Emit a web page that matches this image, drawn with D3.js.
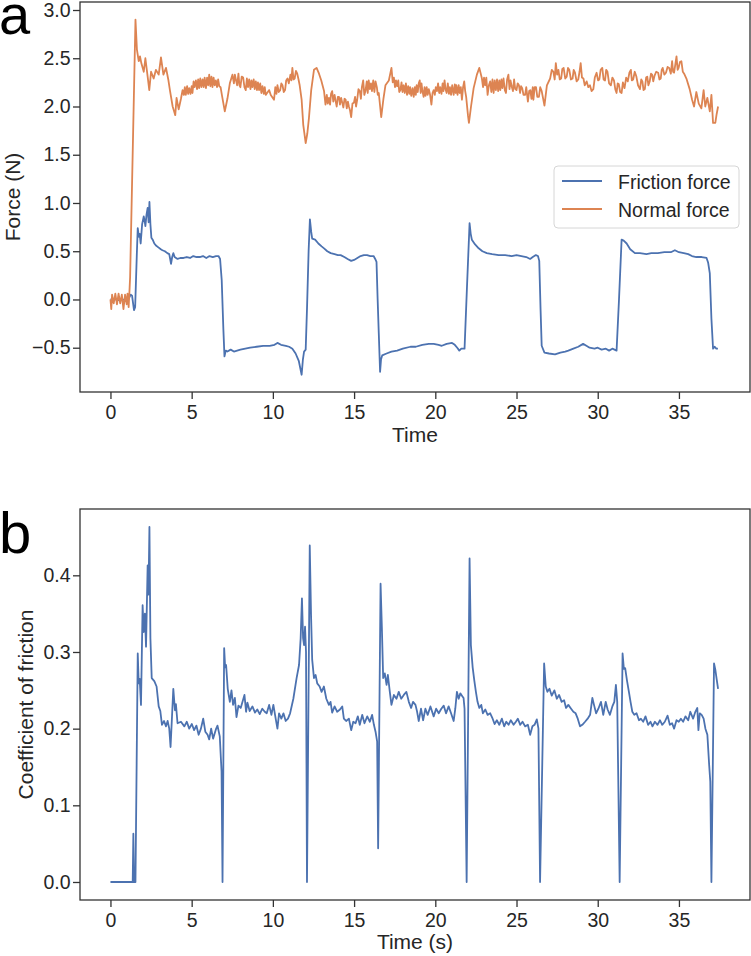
<!DOCTYPE html>
<html>
<head>
<meta charset="utf-8">
<script src="https://cdn.jsdelivr.net/npm/d3@7"></script>
<style>
  body { margin: 0; background: #fff; }
  svg text { font-family: "Liberation Sans", Arial, sans-serif; fill: #262626; }
</style>
</head>
<body>
<div id="graph"></div>
<script>
// ---- data ----
var xTicks = [0, 5, 10, 15, 20, 25, 30, 35];
var forceTicks = [-0.5, 0.0, 0.5, 1.0, 1.5, 2.0, 2.5, 3.0];
var coefTicks = [0.0, 0.1, 0.2, 0.3, 0.4];
var seriesNames = ["Friction force", "Normal force"];

var frictionTime = [0, 0.3, 0.6, 0.9, 1.1, 1.25, 1.33, 1.45, 1.52, 1.62, 1.68, 1.75, 1.8, 1.86, 1.95, 2.05, 2.12, 2.15, 2.22, 2.29, 2.35, 2.4, 2.46, 2.52, 2.6, 2.7, 2.8, 2.95, 3.1, 3.2, 3.35, 3.5, 3.62, 3.73, 3.8, 3.87, 3.95, 4.13, 4.3, 4.5, 4.7, 4.9, 5.1, 5.3, 5.5, 5.7, 5.9, 6.1, 6.3, 6.5, 6.65, 6.75, 6.85, 6.95, 7.02, 7.1, 7.2, 7.4, 7.6, 7.8, 8.0, 8.3, 8.6, 9.0, 9.4, 9.8, 10.1, 10.28, 10.5, 10.8, 11.0, 11.2, 11.4, 11.6, 11.77, 11.85, 11.92, 12.02, 12.1, 12.2, 12.28, 12.36, 12.42, 12.6, 12.8, 13.0, 13.15, 13.35, 13.56, 13.8, 14.0, 14.17, 14.4, 14.6, 14.82, 15.0, 15.2, 15.4, 15.6, 15.8, 16.0, 16.2, 16.3, 16.38, 16.45, 16.52, 16.6, 16.66, 16.73, 17.0, 17.3, 17.65, 18.0, 18.47, 18.8, 19.2, 19.6, 19.9, 20.2, 20.4, 20.7, 21.03, 21.2, 21.35, 21.48, 21.6, 21.8, 21.95, 22.11, 22.18, 22.25, 22.45, 22.67, 22.9, 23.17, 23.5, 23.9, 24.3, 24.7, 25.0, 25.3, 25.6, 25.84, 26.0, 26.19, 26.32, 26.4, 26.48, 26.55, 26.72, 27.0, 27.37, 27.7, 28.0, 28.19, 28.5, 28.8, 29.1, 29.3, 29.5, 29.8, 30.0, 30.24, 30.5, 30.7, 30.9, 31.16, 31.31, 31.47, 31.6, 31.78, 32.0, 32.29, 32.6, 33.0, 33.3, 33.7, 34.1, 34.5, 34.75, 35.0, 35.3, 35.57, 35.8, 36.07, 36.4, 36.7, 36.8, 36.9, 37.0, 37.1, 37.2, 37.3, 37.4];
var frictionForce = [0, 0.0, -0.01, 0.0, 0.0, 0.05, 0.04, -0.11, -0.08, 0.45, 0.74, 0.65, 0.68, 0.58, 0.78, 0.86, 0.8, 0.76, 0.88, 0.95, 0.8, 1.01, 0.78, 0.64, 0.62, 0.58, 0.56, 0.54, 0.52, 0.51, 0.5, 0.48, 0.47, 0.37, 0.44, 0.48, 0.44, 0.42, 0.43, 0.43, 0.44, 0.43, 0.45, 0.44, 0.44, 0.45, 0.43, 0.45, 0.44, 0.45, 0.45, 0.42, 0.2, -0.3, -0.59, -0.53, -0.54, -0.52, -0.54, -0.53, -0.52, -0.51, -0.5, -0.49, -0.48, -0.48, -0.47, -0.45, -0.47, -0.48, -0.49, -0.51, -0.56, -0.64, -0.78, -0.62, -0.54, -0.52, -0.1, 0.5, 0.83, 0.7, 0.63, 0.62, 0.58, 0.55, 0.53, 0.5, 0.48, 0.47, 0.46, 0.46, 0.44, 0.42, 0.4, 0.41, 0.43, 0.45, 0.46, 0.46, 0.45, 0.45, 0.42, 0.39, 0.0, -0.35, -0.75, -0.62, -0.58, -0.56, -0.54, -0.53, -0.51, -0.49, -0.49, -0.47, -0.46, -0.46, -0.47, -0.48, -0.46, -0.45, -0.47, -0.5, -0.53, -0.51, -0.51, 0.13, 0.79, 0.68, 0.62, 0.57, 0.53, 0.5, 0.48, 0.47, 0.46, 0.46, 0.45, 0.46, 0.45, 0.44, 0.42, 0.44, 0.46, 0.45, 0.4, -0.1, -0.48, -0.55, -0.56, -0.57, -0.55, -0.54, -0.53, -0.51, -0.49, -0.46, -0.48, -0.5, -0.51, -0.5, -0.52, -0.51, -0.53, -0.51, -0.53, 0.0, 0.62, 0.61, 0.58, 0.52, 0.48, 0.48, 0.47, 0.48, 0.48, 0.49, 0.49, 0.51, 0.49, 0.48, 0.47, 0.45, 0.44, 0.44, 0.43, 0.38, 0.27, -0.2, -0.51, -0.49, -0.51, -0.51];

// normal force as [time, force] pairs
var normalForce = [
  [0, 0.0], [0.05, -0.1], [0.1, 0.05], [0.2, -0.04], [0.3, 0.06], [0.4, -0.05], [0.5, 0.06], [0.6, -0.04], [0.7, 0.05], [0.8, -0.1],
  [0.9, 0.05], [1.0, -0.05], [1.05, 0.06], [1.12, -0.08], [1.18, 0.12], [1.21, 0.23], [1.54, 2.9], [1.63, 2.59], [1.74, 2.47], [1.82, 2.52],
  [1.9, 2.45], [2.05, 2.36], [2.15, 2.5], [2.29, 2.31], [2.39, 2.17], [2.5, 2.36], [2.66, 2.29], [2.8, 2.38], [2.97, 2.33], [3.11, 2.51],
  [3.26, 2.33], [3.42, 2.4], [3.56, 2.28], [3.66, 2.17], [3.83, 2.0], [3.99, 1.91], [4.07, 2.09], [4.2, 1.97], [4.34, 2.08],
  [4.44, 2.17], [4.52, 2.12], [4.58, 2.2], [4.64, 2.12], [4.72, 2.21], [4.78, 2.13], [4.85, 2.19], [4.93, 2.13], [5.0, 2.21], [5.05, 2.14],
  [5.12, 2.26], [5.18, 2.2], [5.26, 2.27], [5.33, 2.18], [5.4, 2.28], [5.46, 2.19], [5.53, 2.29], [5.6, 2.2], [5.67, 2.28], [5.74, 2.2],
  [5.8, 2.3], [5.88, 2.19], [5.95, 2.3], [6.02, 2.22], [6.08, 2.33], [6.15, 2.21], [6.22, 2.31], [6.28, 2.2], [6.35, 2.3], [6.42, 2.22],
  [6.49, 2.27], [6.56, 2.2], [6.63, 2.28], [6.7, 2.21], [6.78, 2.2], [6.86, 2.12], [7.04, 1.95], [7.2, 2.08], [7.35, 2.24],
  [7.51, 2.33], [7.6, 2.24], [7.66, 2.33], [7.72, 2.28], [7.8, 2.22], [7.88, 2.34], [7.94, 2.22], [8.0, 2.2], [8.08, 2.31], [8.17, 2.3],
  [8.25, 2.2], [8.33, 2.17], [8.4, 2.29], [8.47, 2.2], [8.54, 2.28], [8.62, 2.18], [8.68, 2.27], [8.74, 2.2], [8.82, 2.28], [8.88, 2.18],
  [8.95, 2.26], [9.02, 2.17], [9.08, 2.25], [9.15, 2.17], [9.22, 2.24], [9.29, 2.14], [9.36, 2.21], [9.44, 2.13], [9.5, 2.2], [9.56, 2.12],
  [9.77, 2.17], [9.87, 2.12], [10.07, 2.07], [10.15, 2.2], [10.22, 2.13], [10.28, 2.22], [10.36, 2.15], [10.45, 2.17], [10.52, 2.24], [10.59, 2.22],
  [10.67, 2.15], [10.75, 2.17], [10.82, 2.27], [10.9, 2.29], [10.98, 2.24], [11.08, 2.33], [11.14, 2.27], [11.2, 2.4], [11.27, 2.28], [11.34, 2.29],
  [11.42, 2.37], [11.5, 2.34], [11.58, 2.28], [11.65, 2.22], [11.77, 2.07], [11.87, 1.81], [12.02, 1.62], [12.12, 1.72], [12.22, 1.88], [12.36, 2.17],
  [12.53, 2.38], [12.69, 2.4], [12.84, 2.34], [12.98, 2.27], [13.15, 2.16], [13.24, 2.02], [13.32, 2.12], [13.38, 2.03], [13.45, 2.09], [13.52, 2.02],
  [13.58, 2.13], [13.65, 2.16], [13.72, 2.05], [13.8, 2.12], [13.86, 2.06], [13.93, 2.0], [14.0, 2.1], [14.07, 2.1], [14.13, 2.02], [14.2, 2.09],
  [14.27, 2.04], [14.34, 1.99], [14.41, 2.08], [14.48, 2.07], [14.55, 1.98], [14.62, 2.05], [14.68, 2.0], [14.75, 1.96], [14.82, 1.89], [14.9, 2.03],
  [14.99, 2.04], [15.06, 2.1], [15.12, 2.0], [15.19, 2.07], [15.27, 2.18], [15.35, 2.16], [15.42, 2.08], [15.48, 2.2], [15.56, 2.27], [15.63, 2.12],
  [15.7, 2.16], [15.78, 2.26], [15.84, 2.14], [15.9, 2.27], [15.97, 2.18], [16.04, 2.24], [16.1, 2.16], [16.18, 2.27], [16.25, 2.15], [16.32, 2.26],
  [16.4, 2.2], [16.46, 2.12], [16.52, 2.14], [16.67, 1.89], [16.8, 2.07], [16.93, 2.22], [17.14, 2.27],
  [17.3, 2.4], [17.38, 2.25], [17.45, 2.3], [17.52, 2.2], [17.58, 2.27], [17.65, 2.21], [17.72, 2.27], [17.78, 2.15], [17.85, 2.17], [17.92, 2.25],
  [17.98, 2.15], [18.05, 2.22], [18.12, 2.14], [18.19, 2.24], [18.26, 2.12], [18.33, 2.21], [18.4, 2.13], [18.45, 2.2], [18.52, 2.11], [18.6, 2.19],
  [18.67, 2.1], [18.74, 2.2], [18.8, 2.12], [18.85, 2.22], [18.92, 2.15], [18.98, 2.24], [19.04, 2.27], [19.1, 2.14], [19.15, 2.24], [19.2, 2.17],
  [19.28, 2.1], [19.34, 2.2], [19.4, 2.11], [19.47, 2.2], [19.53, 2.12], [19.6, 2.18], [19.68, 2.12], [19.76, 2.02], [19.83, 2.14], [19.9, 2.17],
  [19.97, 2.12], [20.03, 2.2], [20.1, 2.16], [20.17, 2.24], [20.24, 2.14], [20.3, 2.2], [20.38, 2.13], [20.45, 2.24], [20.5, 2.16], [20.57, 2.27],
  [20.63, 2.18], [20.7, 2.14], [20.77, 2.24], [20.84, 2.13], [20.9, 2.2], [20.97, 2.12], [21.04, 2.22], [21.13, 2.12], [21.2, 2.23], [21.26, 2.14],
  [21.3, 2.22], [21.37, 2.12], [21.44, 2.22], [21.5, 2.14], [21.57, 2.2], [21.64, 2.07], [21.71, 2.2], [21.78, 2.26], [21.84, 2.16], [21.9, 2.1],
  [22.01, 1.91], [22.07, 1.83], [22.2, 2.0], [22.36, 2.19], [22.56, 2.33], [22.71, 2.4],
  [22.87, 2.29], [22.94, 2.2], [23.0, 2.3], [23.07, 2.22], [23.14, 2.3], [23.22, 2.12], [23.3, 2.22], [23.38, 2.26], [23.45, 2.15], [23.52, 2.28],
  [23.59, 2.14], [23.66, 2.27], [23.73, 2.17], [23.8, 2.28], [23.87, 2.16], [23.94, 2.27], [24.0, 2.17], [24.07, 2.28], [24.13, 2.19], [24.2, 2.29],
  [24.28, 2.17], [24.35, 2.14], [24.42, 2.28], [24.5, 2.33], [24.57, 2.18], [24.63, 2.27], [24.7, 2.21], [24.78, 2.16], [24.85, 2.28], [24.92, 2.18],
  [25.0, 2.17], [25.07, 2.24], [25.15, 2.22], [25.22, 2.14], [25.28, 2.21], [25.35, 2.19], [25.43, 2.12], [25.53, 2.12], [25.6, 2.2], [25.7, 2.05],
  [25.78, 2.16], [25.85, 2.17], [25.92, 2.08], [26.0, 2.2], [26.04, 2.07], [26.12, 2.2], [26.2, 2.2], [26.28, 2.1], [26.38, 2.1], [26.46, 2.2],
  [26.55, 2.16], [26.72, 2.01], [26.87, 2.22],
  [27.07, 2.29], [27.17, 2.38], [27.27, 2.36], [27.35, 2.28], [27.42, 2.45], [27.5, 2.33], [27.58, 2.38], [27.66, 2.28], [27.75, 2.29], [27.82, 2.39],
  [27.9, 2.4], [28.0, 2.29], [28.09, 2.31], [28.17, 2.4], [28.25, 2.38], [28.35, 2.28], [28.45, 2.29], [28.52, 2.38], [28.6, 2.35], [28.7, 2.26],
  [28.8, 2.28], [28.88, 2.36], [28.95, 2.45], [29.03, 2.3], [29.12, 2.29], [29.2, 2.22], [29.32, 2.26], [29.42, 2.2], [29.52, 2.22], [29.62, 2.16],
  [29.73, 2.18], [29.82, 2.3], [29.93, 2.35], [30.02, 2.27], [30.1, 2.28], [30.18, 2.38], [30.28, 2.4], [30.36, 2.28], [30.45, 2.27], [30.52, 2.38],
  [30.6, 2.36], [30.7, 2.24], [30.81, 2.22], [30.9, 2.3], [31.0, 2.27], [31.08, 2.18], [31.16, 2.14], [31.23, 2.24], [31.3, 2.23], [31.38, 2.15],
  [31.47, 2.14], [31.55, 2.25], [31.65, 2.19], [31.75, 2.3], [31.85, 2.26], [31.95, 2.35], [32.04, 2.38], [32.1, 2.27], [32.18, 2.28], [32.28, 2.36],
  [32.38, 2.31], [32.48, 2.22], [32.6, 2.18], [32.68, 2.28], [32.75, 2.26], [32.82, 2.17], [32.9, 2.18], [32.98, 2.3], [33.05, 2.31], [33.12, 2.22],
  [33.2, 2.26], [33.28, 2.34], [33.35, 2.33], [33.42, 2.26], [33.5, 2.32], [33.6, 2.36], [33.72, 2.35], [33.8, 2.28], [33.88, 2.29], [33.94, 2.38],
  [34.0, 2.4], [34.1, 2.33], [34.2, 2.35], [34.3, 2.41], [34.4, 2.4], [34.5, 2.34], [34.58, 2.47], [34.64, 2.36], [34.7, 2.35], [34.78, 2.44],
  [34.85, 2.52], [34.92, 2.38], [34.98, 2.4], [35.06, 2.46], [35.15, 2.47], [35.24, 2.36], [35.32, 2.34], [35.46, 2.29], [35.66, 2.18], [35.81, 2.07],
  [35.93, 2.0], [36.07, 2.15], [36.22, 2.03], [36.38, 1.98], [36.52, 2.17], [36.62, 2.0], [36.75, 2.09], [36.9, 1.95], [37.0, 2.12], [37.1, 1.83],
  [37.24, 1.83], [37.32, 1.92], [37.41, 2.0]
];

var coefTime = [0, 1.37, 1.41, 1.45, 1.54, 1.68, 1.74, 1.8, 1.88, 1.98, 2.05, 2.12, 2.19, 2.29, 2.34, 2.4, 2.46, 2.54, 2.7, 2.84, 2.97, 3.07, 3.17, 3.3, 3.42, 3.52, 3.62, 3.7, 3.79, 3.87, 3.97, 4.03, 4.13, 4.34, 4.55, 4.7, 4.85, 5.01, 5.15, 5.29, 5.43, 5.57, 5.71, 5.84, 5.98, 6.08, 6.2, 6.32, 6.49, 6.59, 6.73, 6.84, 6.9, 7.0, 7.06, 7.12, 7.22, 7.35, 7.45, 7.55, 7.66, 7.76, 7.88, 8.02, 8.25, 8.35, 8.43, 8.57, 8.74, 8.9, 9.04, 9.19, 9.35, 9.5, 9.62, 9.77, 9.91, 10.03, 10.18, 10.28, 10.38, 10.52, 10.65, 10.79, 10.93, 11.06, 11.26, 11.46, 11.61, 11.71, 11.79, 11.86, 11.92, 11.98, 12.04, 12.1, 12.27, 12.35, 12.42, 12.53, 12.63, 12.73, 12.88, 13.0, 13.14, 13.29, 13.45, 13.55, 13.65, 13.8, 13.96, 14.13, 14.27, 14.37, 14.51, 14.68, 14.82, 14.95, 15.09, 15.23, 15.35, 15.5, 15.64, 15.81, 15.97, 16.11, 16.22, 16.32, 16.42, 16.48, 16.63, 16.71, 16.79, 16.89, 17.0, 17.08, 17.2, 17.3, 17.45, 17.61, 17.75, 17.9, 18.06, 18.22, 18.37, 18.51, 18.63, 18.78, 18.88, 18.98, 19.12, 19.25, 19.39, 19.53, 19.7, 19.9, 20.05, 20.21, 20.37, 20.52, 20.66, 20.82, 20.97, 21.13, 21.23, 21.33, 21.44, 21.54, 21.64, 21.74, 21.8, 21.93, 22.11, 22.19, 22.3, 22.4, 22.5, 22.6, 22.71, 22.83, 22.93, 23.08, 23.22, 23.38, 23.53, 23.65, 23.79, 23.94, 24.1, 24.24, 24.37, 24.51, 24.65, 24.82, 24.96, 25.08, 25.23, 25.37, 25.53, 25.7, 25.84, 25.98, 26.11, 26.25, 26.35, 26.45, 26.7, 26.8, 26.9, 27.03, 27.17, 27.33, 27.48, 27.62, 27.78, 27.93, 28.05, 28.19, 28.36, 28.5, 28.64, 28.77, 28.91, 29.05, 29.22, 29.38, 29.53, 29.67, 29.77, 29.9, 30.04, 30.2, 30.34, 30.49, 30.61, 30.75, 30.9, 31.02, 31.12, 31.2, 31.35, 31.53, 31.61, 31.69, 31.8, 31.92, 32.02, 32.13, 32.25, 32.39, 32.54, 32.66, 32.8, 32.94, 33.1, 33.25, 33.37, 33.52, 33.68, 33.83, 33.97, 34.13, 34.3, 34.44, 34.58, 34.7, 34.85, 34.99, 35.12, 35.26, 35.4, 35.57, 35.7, 35.87, 36.01, 36.13, 36.2, 36.28, 36.4, 36.52, 36.63, 36.75, 36.86, 36.93, 37.0, 37.16, 37.24, 37.32, 37.41];
var coefValue = [0, 0, 0.063, 0, 0, 0.298, 0.259, 0.265, 0.231, 0.361, 0.326, 0.35, 0.307, 0.413, 0.375, 0.463, 0.318, 0.266, 0.262, 0.255, 0.229, 0.223, 0.205, 0.21, 0.203, 0.21, 0.2, 0.176, 0.216, 0.252, 0.224, 0.232, 0.207, 0.209, 0.203, 0.209, 0.2, 0.206, 0.198, 0.204, 0.192, 0.2, 0.213, 0.196, 0.192, 0.186, 0.2, 0.187, 0.199, 0.204, 0.19, 0.144, 0, 0.305, 0.28, 0.283, 0.252, 0.235, 0.25, 0.231, 0.24, 0.215, 0.23, 0.227, 0.244, 0.222, 0.234, 0.223, 0.229, 0.221, 0.225, 0.219, 0.226, 0.222, 0.22, 0.231, 0.218, 0.231, 0.212, 0.2, 0.22, 0.213, 0.22, 0.21, 0.213, 0.22, 0.239, 0.266, 0.283, 0.318, 0.37, 0.318, 0.309, 0.333, 0.3, 0, 0.439, 0.348, 0.29, 0.266, 0.27, 0.259, 0.255, 0.248, 0.255, 0.239, 0.231, 0.235, 0.221, 0.229, 0.222, 0.225, 0.229, 0.213, 0.21, 0.213, 0.198, 0.209, 0.207, 0.216, 0.205, 0.218, 0.207, 0.216, 0.209, 0.218, 0.205, 0.196, 0.183, 0.044, 0.389, 0.332, 0.266, 0.272, 0.257, 0.27, 0.248, 0.231, 0.244, 0.239, 0.248, 0.239, 0.244, 0.248, 0.235, 0.227, 0.235, 0.231, 0.222, 0.21, 0.226, 0.211, 0.226, 0.218, 0.229, 0.216, 0.226, 0.22, 0.226, 0.23, 0.22, 0.229, 0.22, 0.21, 0.226, 0.248, 0.239, 0.246, 0.243, 0.24, 0.226, 0, 0.422, 0.309, 0.28, 0.263, 0.248, 0.235, 0.227, 0.231, 0.22, 0.225, 0.218, 0.22, 0.213, 0.206, 0.211, 0.205, 0.213, 0.203, 0.209, 0.205, 0.211, 0.205, 0.209, 0.213, 0.205, 0.209, 0.203, 0.205, 0.192, 0.203, 0.205, 0.212, 0.2, 0, 0.285, 0.255, 0.248, 0.252, 0.243, 0.25, 0.239, 0.244, 0.235, 0.237, 0.227, 0.231, 0.226, 0.222, 0.22, 0.213, 0.203, 0.205, 0.209, 0.213, 0.218, 0.24, 0.231, 0.22, 0.226, 0.235, 0.218, 0.235, 0.225, 0.218, 0.229, 0.235, 0.257, 0.235, 0, 0.298, 0.278, 0.279, 0.263, 0.248, 0.235, 0.222, 0.218, 0.22, 0.211, 0.213, 0.209, 0.216, 0.205, 0.209, 0.203, 0.209, 0.205, 0.211, 0.205, 0.209, 0.217, 0.205, 0.207, 0.2, 0.211, 0.209, 0.213, 0.209, 0.216, 0.211, 0.222, 0.213, 0.222, 0.227, 0.198, 0.22, 0.218, 0.213, 0.2, 0.192, 0.153, 0.131, 0, 0.285, 0.277, 0.265, 0.252];

var blue = "#4c72b0", orange = "#dd8452", frameColor = "#333333";

var W = 751, H = 956;
var svg = d3.select("#graph").append("svg")
    .attr("width", W)
    .attr("height", H);

// both panels share the same time range
function timeScale() {
    return d3.scaleLinear().domain([-1.875, 39.375]).range([80, 750]);
}

function drawPanel(top, bottom, y, yTicks, yFmt, xLabel, yLabel, yLabelX, xLabelY) {
    var x = timeScale();
    var g = svg.append("g");

    g.append("g")
        .attr("transform", "translate(0," + bottom + ")")
        .call(d3.axisBottom(x).tickValues(xTicks).tickSize(7).tickPadding(6).tickFormat(d3.format("d")))
        .call(styleAxis);

    g.append("g")
        .attr("transform", "translate(80,0)")
        .call(d3.axisLeft(y).tickValues(yTicks).tickSize(7).tickPadding(2.5).tickFormat(yFmt))
        .call(styleAxis);

    g.append("rect")
        .attr("x", 80).attr("y", top)
        .attr("width", 670).attr("height", bottom - top)
        .attr("fill", "none")
        .attr("stroke", frameColor)
        .attr("stroke-width", 1.3);

    g.append("text")
        .attr("x", 415).attr("y", xLabelY)
        .attr("text-anchor", "middle")
        .style("font-size", "21px")
        .text(xLabel);

    g.append("text")
        .attr("transform", "translate(" + yLabelX + "," + ((top + bottom) / 2) + ") rotate(-90)")
        .attr("text-anchor", "middle")
        .style("font-size", "21px")
        .text(yLabel);

    return { g: g, x: x };
}

function styleAxis(sel) {
    sel.select(".domain").remove();
    sel.selectAll(".tick line").attr("stroke", frameColor).attr("stroke-width", 1.3);
    sel.selectAll(".tick text")
        .style("font-size", "19.5px")
        .style("font-family", "'Liberation Sans', Arial, sans-serif")
        .attr("fill", "#262626");
}

function series(times, values) {
    return times.map(function (t, i) { return [t, values[i]]; });
}

// ---- panel a ----
var yA = d3.scaleLinear().domain([-0.959, 3.083]).range([392, 2]);
var pa = drawPanel(2, 392, yA, forceTicks, d3.format(".1f"), "Time", "Force (N)", 20, 442);

var lineA = d3.line()
    .x(function (d) { return pa.x(d[0]); })
    .y(function (d) { return yA(d[1]); });

pa.g.append("path")
    .datum(series(frictionTime, frictionForce))
    .attr("d", lineA)
    .attr("fill", "none")
    .attr("stroke", blue)
    .attr("stroke-width", 1.8)
    .attr("stroke-linejoin", "round");

pa.g.append("path")
    .datum(normalForce)
    .attr("d", lineA)
    .attr("fill", "none")
    .attr("stroke", orange)
    .attr("stroke-width", 1.8)
    .attr("stroke-linejoin", "round");

// legend
var legend = pa.g.append("g");
legend.append("rect")
    .attr("x", 554).attr("y", 166)
    .attr("width", 185).attr("height", 62)
    .attr("rx", 4)
    .attr("fill", "#fff").attr("fill-opacity", 0.8)
    .attr("stroke", "#d6d6d6").attr("stroke-width", 1);

[blue, orange].forEach(function (c, i) {
    var ly = 181 + i * 28;
    legend.append("line")
        .attr("x1", 562).attr("x2", 602)
        .attr("y1", ly).attr("y2", ly)
        .attr("stroke", c).attr("stroke-width", 1.8);
    legend.append("text")
        .attr("x", 618).attr("y", ly + 8)
        .style("font-size", "19.5px")
        .text(seriesNames[i]);
});

svg.append("text")
    .attr("x", -1).attr("y", 34)
    .style("font-size", "56px")
    .style("fill", "#000")
    .text("a");

// ---- panel b ----
var yB = d3.scaleLinear().domain([-0.0235, 0.4865]).range([900, 509]);
var pb = drawPanel(509, 900, yB, coefTicks, d3.format(".1f"), "Time (s)", "Coefficient of friction", 33, 949);

var lineB = d3.line()
    .x(function (d) { return pb.x(d[0]); })
    .y(function (d) { return yB(d[1]); });

pb.g.append("path")
    .datum(series(coefTime, coefValue))
    .attr("d", lineB)
    .attr("fill", "none")
    .attr("stroke", blue)
    .attr("stroke-width", 1.8)
    .attr("stroke-linejoin", "round");

svg.append("text")
    .attr("x", -1).attr("y", 553)
    .style("font-size", "58px")
    .style("fill", "#000")
    .text("b");
</script>
</body>
</html>
